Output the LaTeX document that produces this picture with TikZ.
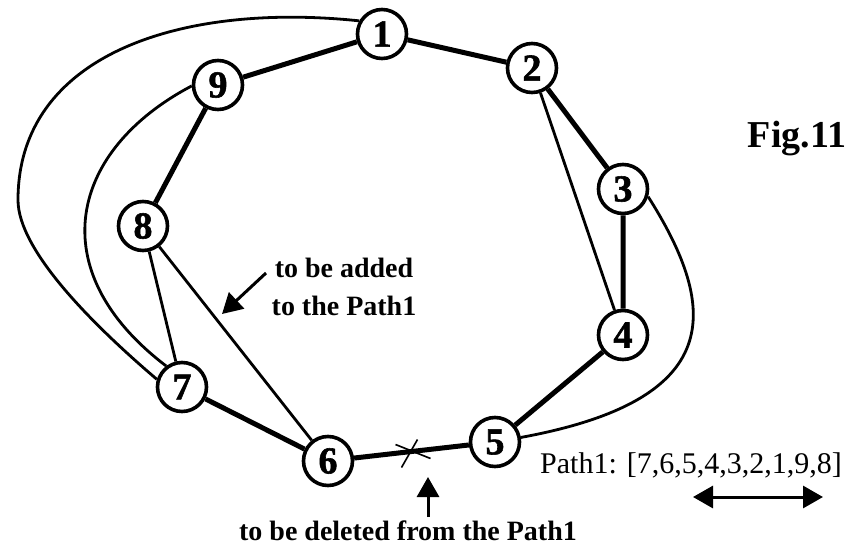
\documentclass[tikz,border=0pt]{standalone}
\usepackage{fontspec}
\setmainfont{Liberation Serif}
\newfontfamily\digitfont{Liberation Serif}[BoldFeatures={FakeBold=1.5}]
\usepackage{tikz}
\usetikzlibrary{arrows.meta,positioning,calc}

\tikzset{
  vtx/.style={circle, draw, line width=3.6pt, minimum size=49pt, inner sep=0pt, fill=white,
    font=\digitfont\fontsize{38}{40}\selectfont\bfseries},
  pathedge/.style={line width=5pt},
  chord/.style={line width=2.8pt},
  note/.style={inner sep=3pt, font=\fontsize{28}{38}\selectfont\bfseries},
  ptr/.style={line width=3pt, -{Triangle[length=20pt,width=22pt]}},
  span/.style={line width=3pt, {Triangle[length=20pt,width=22pt]}-{Triangle[length=20pt,width=22pt]}},
}

\begin{document}
\begin{tikzpicture}[x=1pt,y=-1pt]
  \useasboundingbox (0,0) rectangle (852,552);

  % vertices
  \node[vtx] (n1) at (382,34) {1};
  \node[vtx] (n2) at (532,68) {2};
  \node[vtx] (n3) at (623,189) {3};
  \node[vtx] (n4) at (623,335) {4};
  \node[vtx] (n5) at (495,442) {5};
  \node[vtx] (n6) at (328,461) {6};
  \node[vtx] (n7) at (182,387) {7};
  \node[vtx] (n8) at (143,226) {8};
  \node[vtx] (n9) at (218,85) {9};

  % Path1
  \draw[pathedge] (n7) -- (n6) -- (n5) -- (n4) -- (n3) -- (n2) -- (n1) -- (n9) -- (n8);

  % other edges
  \draw[chord] (n8) -- (n7);
  \draw[chord] (n8) -- (n6);
  \draw[chord] (n2) -- (n4);
  \draw[chord] (n1.150) .. controls (180,2) and (18,55) .. (18,200)
                        .. controls (18,250) and (92,324) .. (n7.163);
  \draw[chord] (n9.182) .. controls (70,150) and (40,270) .. (n7.127);
  \draw[chord] (n3.-17) .. controls (720,310) and (725,400) .. (n5.10);

  % deleted edge
  \path (n6) -- (n5) coordinate[pos=0.5] (cut);
  \draw[line width=1.6pt] (cut) ++(-16,-7) -- ++(35,14)
                          (cut) ++(6,-12) -- ++(-16,28);

  % labels
  \node[note, anchor=base, font=\fontsize{38}{44}\selectfont\bfseries] (fignote) at (797,147) {Fig.11};
  \node[note, align=center] (addnote) at (344,287) {to be added\\to the Path1};
  \coordinate (addtail) at (266,273);
  \coordinate (addtip) at (222,314);
  \draw[ptr] (addtail) -- (addtip);

  \node[note, anchor=base] (delnote) at (408,540) {to be deleted from the Path1};
  \coordinate (deltip) at (428,477);
  \draw[ptr] (deltip |- delnote.north) -- (deltip);

  \node[anchor=base, font=\fontsize{30}{36}\selectfont] (pathnote) at (691,473) {Path1: [7,6,5,4,3,2,1,9,8]};
  \coordinate (spanl) at (693,497);
  \coordinate (spanr) at (823,497);
  \draw[span] (spanl) -- (spanr);
\end{tikzpicture}
\end{document}
